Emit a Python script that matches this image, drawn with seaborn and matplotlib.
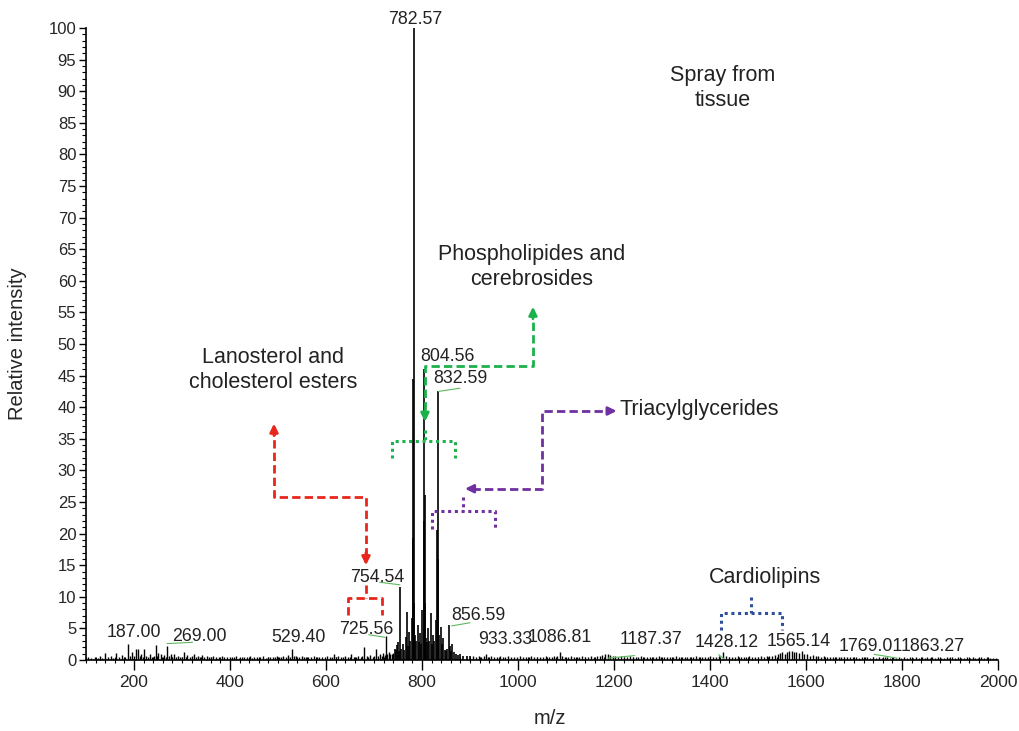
import matplotlib
matplotlib.use("Agg")
import matplotlib.pyplot as plt
from matplotlib.ticker import MultipleLocator
import seaborn as sns

# background peaks (m/z, relative intensity)
bg_mz = [104, 111, 118, 124, 130, 134, 139, 145, 152, 157,
         163, 169, 175, 181, 187, 191, 196, 201, 205, 209,
         212, 215, 218, 221, 226, 229, 233, 238, 241, 245,
         248, 251, 256, 259, 263, 266, 269, 273, 277, 280,
         283, 287, 291, 295, 299, 304, 308, 311, 316, 320,
         325, 329, 333, 337, 341, 346, 352, 357, 361, 365,
         371, 377, 383, 388, 393, 399, 405, 409, 413, 419,
         424, 429, 435, 441, 446, 451, 457, 463, 469, 475,
         479, 483, 489, 493, 497, 503, 507, 511, 516, 521,
         525, 529.4, 533, 538, 543, 549, 555, 559, 563, 569,
         575, 581, 586, 591, 597, 603, 609, 613, 617, 621,
         625, 631, 635, 639, 645, 649, 653, 658, 663, 667,
         672, 676, 680, 685, 688, 692, 697, 700, 704, 708,
         713, 716, 719, 722, 725.56, 728, 731, 734, 737, 740]
bg_int = [0.4, 0.3, 0.5, 0.3, 0.6, 0.3, 1.1, 0.4, 0.7, 0.3,
          1.1, 0.4, 0.8, 0.5, 2.5, 0.6, 1.2, 0.7, 1.7, 1.8,
          0.6, 1.0, 0.5, 1.7, 0.6, 0.4, 0.9, 0.5, 0.7, 2.4,
          0.6, 1.1, 1.0, 0.5, 0.8, 0.4, 2.2, 0.6, 0.9, 0.5,
          1.0, 0.4, 0.7, 0.5, 0.4, 1.3, 0.5, 0.8, 0.4, 0.6,
          0.9, 0.5, 0.6, 0.4, 0.8, 0.5, 0.7, 0.4, 0.5, 0.6,
          0.4, 0.5, 0.7, 0.4, 0.5, 0.5, 0.4, 0.5, 0.6, 0.3,
          0.5, 0.5, 0.4, 0.6, 0.3, 0.5, 0.5, 0.4, 0.6, 0.3,
          0.5, 0.5, 0.4, 0.5, 0.7, 0.4, 0.5, 0.6, 0.4, 0.8,
          0.5, 1.7, 0.6, 0.7, 0.4, 0.6, 0.4, 0.5, 0.5, 0.4,
          0.6, 0.4, 0.5, 0.5, 0.4, 0.6, 0.4, 0.5, 0.9, 0.5,
          0.6, 0.4, 0.5, 0.7, 0.5, 0.4, 0.9, 0.5, 0.4, 0.7,
          0.5, 0.6, 2.0, 0.6, 0.5, 0.8, 0.5, 0.6, 1.7, 0.7,
          0.9, 0.6, 1.1, 0.8, 3.8, 1.0, 1.2, 0.9, 0.9, 1.1]

# main lipid cluster
cl_mz = [743, 745, 748, 750.7, 752, 754.54, 757, 760, 763, 766.7,
         768, 770, 773.6, 775, 778.5, 780.5, 781.6, 782.57, 784, 786,
         788, 791, 793, 795.8, 798, 800.7, 803.5, 804.56, 805.6, 807,
         809, 811, 813, 815, 818.7, 820, 823.6, 826, 829, 830.6,
         832.59, 833.8, 836, 839.6, 842, 844.4, 847, 850, 853, 856.59,
         858, 860, 863, 866, 870, 875, 880, 886, 893, 900]
cl_int = [1.8, 1.6, 2.4, 2.9, 1.5, 11.5, 1.8, 2.5, 1.6, 3.7,
          7.6, 2.2, 4.5, 3.0, 6.6, 19.3, 44.5, 100.0, 9.0, 4.0,
          3.0, 5.5, 2.8, 4.3, 2.5, 7.9, 22.0, 46.0, 26.1, 9.0,
          3.5, 2.8, 5.0, 3.0, 7.4, 2.5, 4.0, 3.0, 6.3, 20.5,
          42.5, 16.0, 4.0, 5.3, 2.5, 3.5, 1.6, 1.4, 1.8, 5.5,
          2.2, 1.5, 2.5, 1.2, 1.0, 0.8, 1.0, 0.7, 0.6, 0.6]

# high mass region
hi_mz = [906, 912, 918, 924, 929, 933.33, 938, 944, 950, 956,
         962, 968, 974, 980, 986, 992, 998, 1004, 1010, 1016,
         1022, 1028, 1034, 1040, 1046, 1052, 1058, 1064, 1070, 1076,
         1082, 1086.81, 1092, 1098, 1104, 1110, 1116, 1122, 1128, 1134,
         1140, 1146, 1152, 1158, 1164, 1170, 1176, 1181, 1187.37, 1192,
         1197, 1203, 1209, 1215, 1221, 1227, 1233, 1239, 1245, 1251,
         1257, 1263, 1269, 1275, 1281, 1287, 1293, 1299, 1305, 1311,
         1317, 1323, 1329, 1335, 1341, 1347, 1353, 1359, 1365, 1371,
         1377, 1383, 1389, 1395, 1401, 1407, 1413, 1419, 1428.12, 1434,
         1440, 1446, 1452, 1458, 1464, 1470, 1476, 1482, 1488, 1494,
         1500, 1506, 1512, 1518, 1524, 1530, 1536, 1541, 1546, 1551,
         1556, 1561, 1565.14, 1570, 1575, 1580, 1585, 1591, 1596, 1602,
         1608, 1614, 1620, 1626, 1632, 1638, 1644, 1650, 1656, 1662,
         1668, 1674, 1680, 1686, 1692, 1698, 1704, 1710, 1716, 1722,
         1728, 1734, 1740, 1746, 1752, 1758, 1764, 1769.01, 1775, 1781,
         1787, 1793, 1799, 1805, 1811, 1817, 1823, 1829, 1835, 1841,
         1847, 1853, 1858, 1863.27, 1869, 1875, 1881, 1887, 1893, 1899,
         1905, 1911, 1917, 1923, 1929, 1935, 1941, 1947, 1953, 1959,
         1965, 1971, 1977, 1983, 1989, 1995]
hi_int = [0.6, 0.5, 0.7, 0.4, 0.6, 0.9, 0.5, 0.6, 0.4, 0.5,
          0.6, 0.4, 0.5, 0.6, 0.4, 0.5, 0.4, 0.6, 0.5, 0.4,
          0.5, 0.6, 0.4, 0.5, 0.5, 0.4, 0.6, 0.5, 0.4, 0.6,
          0.7, 1.3, 0.6, 0.5, 0.4, 0.6, 0.5, 0.4, 0.5, 0.6,
          0.5, 0.4, 0.6, 0.5, 0.7, 0.6, 0.8, 0.9, 1.0, 0.8,
          0.7, 0.6, 0.5, 0.6, 0.5, 0.4, 0.6, 0.5, 0.4, 0.5,
          0.6, 0.5, 0.4, 0.5, 0.4, 0.5, 0.6, 0.4, 0.5, 0.4,
          0.5, 0.4, 0.6, 0.5, 0.4, 0.5, 0.4, 0.5, 0.4, 0.6,
          0.5, 0.4, 0.5, 0.4, 0.6, 0.5, 0.5, 0.6, 1.2, 0.6,
          0.5, 0.4, 0.5, 0.6, 0.4, 0.5, 0.4, 0.6, 0.5, 0.4,
          0.5, 0.6, 0.5, 0.6, 0.7, 0.6, 0.8, 1.0, 1.1, 1.2,
          1.0, 1.3, 1.4, 1.5, 1.3, 1.2, 1.1, 1.4, 1.0, 0.9,
          0.7, 0.8, 0.6, 0.7, 0.5, 0.6, 0.5, 0.4, 0.5, 0.4,
          0.5, 0.4, 0.5, 0.4, 0.4, 0.5, 0.4, 0.3, 0.4, 0.5,
          0.4, 0.3, 0.4, 0.3, 0.4, 0.3, 0.4, 0.4, 0.3, 0.4,
          0.3, 0.4, 0.3, 0.4, 0.3, 0.4, 0.3, 0.4, 0.3, 0.4,
          0.3, 0.4, 0.3, 0.4, 0.3, 0.4, 0.3, 0.3, 0.4, 0.3,
          0.4, 0.3, 0.4, 0.3, 0.3, 0.4, 0.3, 0.4, 0.3, 0.3,
          0.4, 0.3, 0.4, 0.3, 0.3, 0.3]

# peak labels: text, x, y (data coords)
lab_text = ["782.57", "804.56", "832.59", "754.54", "725.56", "856.59", "933.33",
            "1086.81", "1187.37", "1428.12", "1565.14", "1769.01", "1863.27",
            "187.00", "269.00", "529.40"]
lab_x = [785, 853, 879, 707, 683, 917, 973, 1088, 1277, 1435, 1585, 1735, 1865, 200, 337, 542]
lab_y = [101.4, 48.1, 44.5, 13.1, 4.9, 7.1, 3.2, 3.6, 3.2, 2.7, 3.0, 2.1, 2.1, 4.3, 3.8, 3.5]

sns.set_theme(style="ticks")
plt.rcParams["font.family"] = ["Liberation Sans", "DejaVu Sans"]

fig = plt.figure(figsize=(10.2, 7.31), dpi=100)
ax = fig.add_axes([0.0843, 0.0971, 0.8941, 0.8646])

ax.vlines(bg_mz, 0, bg_int, color="black", lw=1.0)
ax.vlines(cl_mz, 0, cl_int, color="black", lw=1.2)
ax.vlines(hi_mz, 0, hi_int, color="black", lw=1.0)

ax.set_xlim(100, 2000)
ax.set_ylim(0, 100)
ax.xaxis.set_major_locator(MultipleLocator(200))
ax.xaxis.set_minor_locator(MultipleLocator(20))
ax.yaxis.set_major_locator(MultipleLocator(5))
ax.yaxis.set_minor_locator(MultipleLocator(1))
ax.tick_params(axis="y", which="major", direction="out", length=5, width=1, labelsize=12, pad=2, color="black")
ax.tick_params(axis="y", which="minor", direction="out", length=3, width=0.8, color="black")
ax.tick_params(axis="x", which="major", direction="out", length=7, width=1, labelsize=12.5, pad=4, color="black")
ax.tick_params(axis="x", which="minor", direction="inout", length=5, width=0.8, color="black")
sns.despine(ax=ax)
for s in ["left", "bottom"]:
    ax.spines[s].set_color("black")
    ax.spines[s].set_linewidth(1.2)

ax.set_ylabel("Relative intensity", fontsize=14.5)
ax.set_xlabel("m/z", fontsize=14.5)
ax.yaxis.set_label_coords(-0.0646, 0.5)
ax.xaxis.set_label_coords(0.509, -0.0775)

for t, x, y in zip(lab_text, lab_x, lab_y):
    ax.text(x, y, t, ha="center", va="center", fontsize=12.8, color="#222222", clip_on=False)

# green connectors under peak labels
green = "#5cb85c"
ax.plot([712, 754.2], [12.3, 11.9], color=green, lw=0.8)
ax.plot([689, 723], [4.0, 3.6], color=green, lw=0.8)
ax.plot([862, 900], [5.4, 5.9], color=green, lw=0.8)
ax.plot([834, 879], [42.5, 43.0], color=green, lw=0.8)
ax.plot([269, 322], [2.6, 2.8], color=green, lw=0.8)
ax.plot([1187, 1243], [0.3, 0.7], color=green, lw=0.8)
ax.plot([1418, 1429], [0.85, 0.2], color=green, lw=0.8)
ax.plot([1742, 1790], [0.9, 0.3], color=green, lw=0.8)

def arrow(x0, y0, x1, y1, c):
    ax.annotate("", xy=(x1, y1), xytext=(x0, y0),
                arrowprops=dict(arrowstyle="-|>", color=c, lw=2, mutation_scale=12,
                                shrinkA=0, shrinkB=0))

dash = (0, (3, 1.5))
dot = (0, (1, 1.2))

# red: lanosterol and cholesterol esters
red = "#e8261c"
ax.plot([683.3, 683.3, 491.7, 491.7], [16.5, 25.8, 25.8, 35.8], color=red, lw=2, ls=dash)
arrow(491.7, 35.5, 491.7, 37.4, red)
arrow(683.3, 17, 683.3, 15.0, red)
ax.plot([683.3, 683.3], [11.9, 9.8], color=red, lw=2, ls=dash)
ax.plot([645.8, 645.8, 716.7, 716.7], [7.1, 9.8, 9.8, 7.1], color=red, lw=2, ls=dash)

# green: phospholipides and cerebrosides
gr = "#1db14b"
ax.plot([806.2, 806.2, 1031.2, 1031.2], [39.5, 46.5, 46.5, 54], color=gr, lw=2, ls=dash)
arrow(1031.2, 54, 1031.2, 55.9, gr)
arrow(806.2, 39.5, 806.2, 37.7, gr)
ax.plot([806.2, 806.2], [36.4, 34.65], color=gr, lw=2.2, ls=dot)
ax.plot([737.5, 737.5, 868.7, 868.7], [32.0, 34.65, 34.65, 32.0], color=gr, lw=2.2, ls=dot)

# purple: triacylglycerides
pu = "#7030a0"
ax.plot([904, 1049.4, 1049.4, 1190], [27.1, 27.1, 39.4, 39.4], color=pu, lw=2, ls=dash)
arrow(1190, 39.4, 1205.6, 39.4, pu)
arrow(904, 27.1, 889.6, 27.1, pu)
ax.plot([885.4, 885.4], [25.8, 23.5], color=pu, lw=2.2, ls=dot)
ax.plot([820.2, 820.2, 952.1, 952.1], [20.8, 23.5, 23.5, 20.8], color=pu, lw=2.2, ls=dot)

# blue: cardiolipins
bl = "#2e4f9e"
ax.plot([1484.8, 1484.8], [10.0, 7.5], color=bl, lw=2.2, ls=dot)
ax.plot([1422.3, 1422.3, 1549.4, 1549.4], [4.7, 7.5, 7.5, 4.7], color=bl, lw=2.2, ls=dot)

# category texts
txt = dict(fontsize=15.5, color="#222222", linespacing=1.3)
ax.text(1426, 90.5, "Spray from\ntissue", ha="center", va="center", **txt)
ax.text(1029, 62.2, "Phospholipides and\ncerebrosides", ha="center", va="center", **txt)
ax.text(489.6, 45.9, "Lanosterol and\ncholesterol esters", ha="center", va="center", **txt)
ax.text(1212, 39.6, "Triacylglycerides", ha="left", va="center", **txt)
ax.text(1514.6, 13.1, "Cardiolipins", ha="center", va="center", **txt)

fig.savefig("out.png", dpi=100)
